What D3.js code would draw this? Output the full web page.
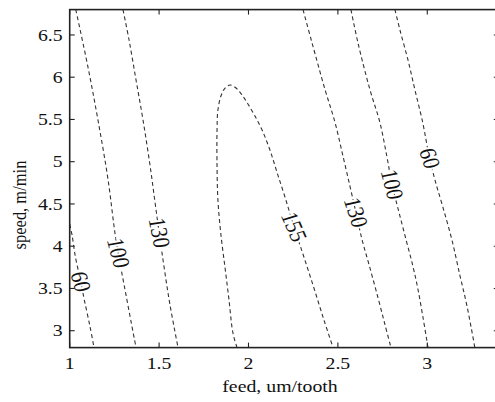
<!DOCTYPE html>
<html><head><meta charset="utf-8">
<script src="https://cdn.jsdelivr.net/npm/d3@7"></script>
<style>
html,body{margin:0;padding:0;background:#fff;}
svg{display:block;}
text{font-family:"Liberation Serif","Times New Roman",serif;}
</style></head>
<body>
<svg id="chart" width="495" height="402"></svg>
<script>
// ---- data (feed um/tooth, speed m/min) ----
const xTicks = [1, 1.5, 2, 2.5, 3];
const yTicks = [3, 3.5, 4, 4.5, 5, 5.5, 6, 6.5];
const xTickLabels = ["1", "1.5", "2", "2.5", "3"];
const yTickLabels = ["3", "3.5", "4", "4.5", "5", "5.5", "6", "6.5"];
const levels = [60, 100, 130, 155, 130, 100, 60];

const line60Left = [[1.0,4.26],[1.013,4.133],[1.032,3.872],[1.060,3.60],[1.082,3.363],[1.114,3.044],[1.136,2.8]];
const line100Left = [[1.034,6.8],[1.102,6.121],[1.158,5.494],[1.214,4.795],[1.259,4.073],[1.315,3.422],[1.371,2.8]];
const line130Left = [[1.298,6.8],[1.332,6.44],[1.371,5.967],[1.410,5.494],[1.449,4.961],[1.483,4.429],[1.522,3.837],[1.561,3.305],[1.606,2.8]];
const line155 = [[1.936,2.8],[1.913,2.973],[1.891,3.363],[1.869,3.742],[1.846,4.132],[1.829,4.547],[1.824,4.961],[1.824,5.375],[1.829,5.612],[1.846,5.777],[1.869,5.872],[1.897,5.907],[1.930,5.872],[1.964,5.789],[1.997,5.683],[2.036,5.541],[2.076,5.375],[2.120,5.138],[2.159,4.878],[2.204,4.582],[2.255,4.227],[2.310,3.872],[2.366,3.505],[2.422,3.127],[2.473,2.8]];
const line130Right = [[2.305,6.8],[2.355,6.41],[2.428,5.854],[2.484,5.464],[2.529,5.061],[2.568,4.706],[2.601,4.399],[2.635,4.079],[2.674,3.783],[2.724,3.393],[2.763,3.074],[2.797,2.8]];
const line100Right = [[2.573,6.8],[2.612,6.41],[2.679,5.854],[2.735,5.464],[2.774,5.061],[2.803,4.73],[2.842,4.399],[2.881,4.079],[2.920,3.76],[2.948,3.488],[2.976,3.157],[3.004,2.8]];
const line60Right = [[2.819,6.8],[2.847,6.559],[2.892,6.204],[2.931,5.849],[2.975,5.458],[3.009,5.079],[3.043,4.783],[3.087,4.464],[3.138,4.073],[3.182,3.659],[3.221,3.304],[3.266,2.8]];
// label anchor speeds on each line
const labelSpeeds = [3.58, 3.92, 4.16, 4.23, 4.40, 4.73, 5.04];

const contourLines = [line60Left, line100Left, line130Left, line155, line130Right, line100Right, line60Right];

// ---- drawing ----
const svg = d3.select("#chart");
const x = d3.scaleLinear().domain([1, 3.4]).range([69.7, 498.8]);
const y = d3.scaleLinear().domain([2.8, 6.8]).range([347.6, 9.6]);
const [x0, x1] = x.range(), [y0, y1] = y.range();
const SX = 1.2; // horizontal stretch of the lettering in the reference

svg.append("defs").append("clipPath").attr("id", "clip")
  .append("rect").attr("x", x0).attr("y", y1).attr("width", x1 - x0).attr("height", y0 - y1);

const plot = svg.append("g").attr("clip-path", "url(#clip)");
const lineGen = d3.line().x(d => x(d[0])).y(d => y(d[1])).curve(d3.curveCatmullRom.alpha(0.5));

plot.selectAll("path.c").data(contourLines).enter().append("path")
  .attr("class", "c").attr("d", lineGen)
  .attr("fill", "none").attr("stroke", "#333").attr("stroke-width", 1.1)
  .attr("stroke-dasharray", "4,3");

function labelPos(pts, s) {
  let best = null;
  for (let i = 0; i < pts.length - 1; i++) {
    const a = pts[i], b = pts[i + 1];
    const lo = Math.min(a[1], b[1]), hi = Math.max(a[1], b[1]);
    if (s >= lo && s <= hi && hi > lo) {
      const t = (s - a[1]) / (b[1] - a[1]);
      const f = a[0] + t * (b[0] - a[0]);
      const dx = x(b[0]) - x(a[0]), dy = y(b[1]) - y(a[1]);
      let ang = Math.atan2(dy, dx * SX) * 180 / Math.PI;
      if (ang > 90) ang -= 180;
      if (ang < -90) ang += 180;
      if (!best || f > best.f) best = {px: x(f), py: y(s), ang, f};
    }
  }
  return best;
}

contourLines.forEach((pts, i) => {
  const p = labelPos(pts, labelSpeeds[i]);
  plot.append("text")
    .attr("transform", `translate(${p.px},${p.py}) scale(${SX},1) rotate(${p.ang})`)
    .attr("text-anchor", "middle").attr("dy", "0.33em")
    .attr("font-size", 20).attr("fill", "#111")
    .attr("stroke", "#fff").attr("stroke-width", 4).attr("paint-order", "stroke")
    .text(levels[i]);
});

// axes box
const axCol = "#222";
svg.append("rect").attr("x", x0).attr("y", y1).attr("width", x1 - x0).attr("height", y0 - y1)
  .attr("fill", "none").attr("stroke", axCol).attr("stroke-width", 1.6);

const tl = 5;
const ticks = svg.append("g").attr("stroke", axCol).attr("stroke-width", 1.1);
xTicks.forEach(v => {
  ticks.append("line").attr("x1", x(v)).attr("x2", x(v)).attr("y1", y0).attr("y2", y0 - tl);
  ticks.append("line").attr("x1", x(v)).attr("x2", x(v)).attr("y1", y1).attr("y2", y1 + tl);
});
yTicks.forEach(v => {
  ticks.append("line").attr("y1", y(v)).attr("y2", y(v)).attr("x1", x0).attr("x2", x0 + tl);
  ticks.append("line").attr("y1", y(v)).attr("y2", y(v)).attr("x1", x1).attr("x2", x1 - tl);
});

svg.append("g").selectAll("text").data(xTicks).enter().append("text")
  .attr("transform", d => `translate(${x(d)},${y0 + 21}) scale(${SX},1)`).attr("text-anchor", "middle")
  .attr("font-size", 16.5).attr("fill", "#111").text((d, i) => xTickLabels[i]);
svg.append("g").selectAll("text").data(yTicks).enter().append("text")
  .attr("transform", d => `translate(${x0 - 7},${y(d)}) scale(${SX},1)`).attr("dy", "0.35em").attr("text-anchor", "end")
  .attr("font-size", 16.5).attr("fill", "#111").text((d, i) => yTickLabels[i]);

svg.append("text").attr("transform", `translate(280,392) scale(${SX},1)`).attr("text-anchor", "middle")
  .attr("font-size", 16.5).attr("fill", "#111").text("feed, um/tooth");
svg.append("text").attr("transform", `translate(26,205) scale(${SX},1) rotate(-90)`).attr("text-anchor", "middle")
  .attr("font-size", 16.5).attr("fill", "#111").text("speed, m/min");
</script>
</body></html>
